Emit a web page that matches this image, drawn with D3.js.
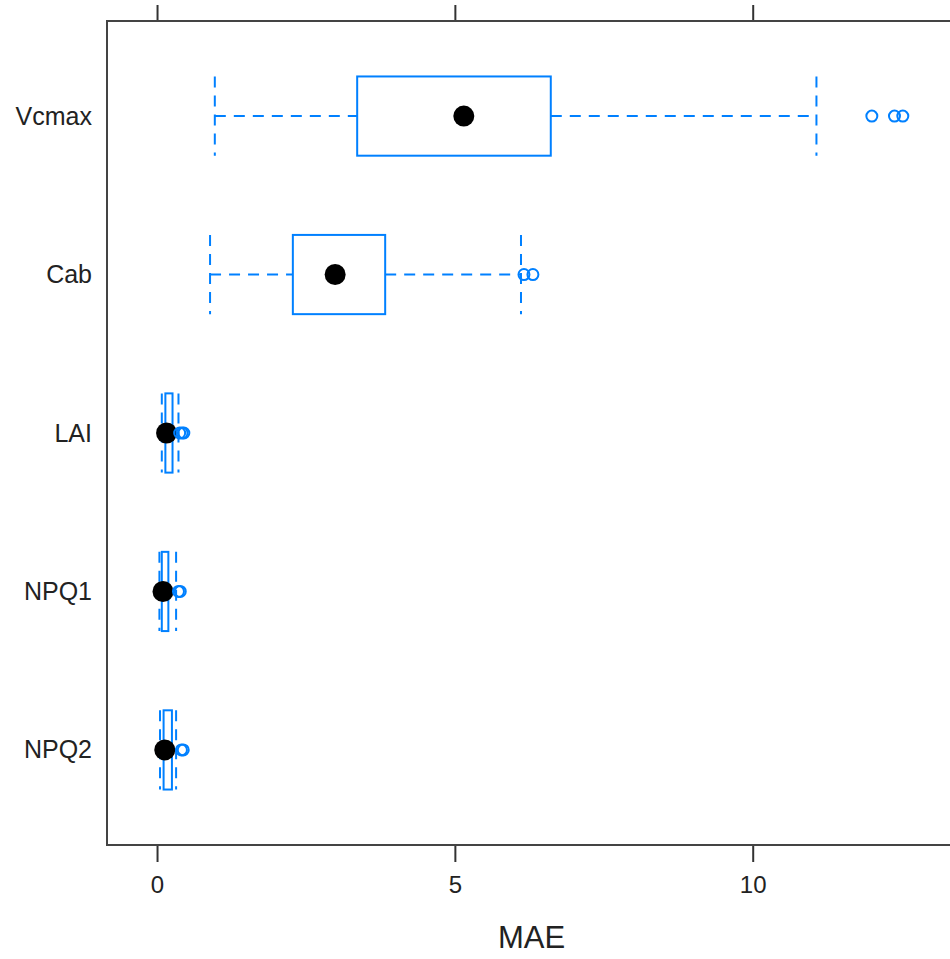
<!DOCTYPE html>
<html>
<head>
<meta charset="utf-8">
<script src="https://cdn.jsdelivr.net/npm/d3@7"></script>
<style>
  body { margin: 0; background: #fff; }
  text { font-family: "Liberation Sans", Arial, sans-serif; }
</style>
</head>
<body>
<div id="chart"></div>
<script>
// box summaries (MAE per parameter)
const categories = ['NPQ2', 'NPQ1', 'LAI', 'Cab', 'Vcmax'];
const whiskerLow = [0.05, 0.04, 0.08, 0.89, 0.97];
const q1 = [0.11, 0.08, 0.14, 2.28, 3.36];
const medians = [0.13, 0.10, 0.16, 2.99, 5.15];
const q3 = [0.25, 0.19, 0.26, 3.83, 6.61];
const whiskerHigh = [0.32, 0.32, 0.36, 6.11, 11.07];
const outliers = [
    [0.41, 0.44],
    [0.36, 0.39],
    [0.38, 0.42, 0.45],
    [6.16, 6.31],
    [12.0, 12.38, 12.52]
];
const xTicks = [0, 5, 10];

const width = 950, height = 959;
const padLeft = 107, padTop = 21, padBottom = 845, padRight = 960;
const blue = '#0080ff';

const svg = d3.select('#chart').append('svg')
    .attr('width', width)
    .attr('height', height);

const x = d3.scaleLinear().domain([-0.84, 13.48]).range([padLeft, padRight]);
const y = d3.scaleLinear().domain([0.4, 5.6]).range([padBottom, padTop]);
const half = y(0) - y(0.25);

const rows = categories.map((c, i) => ({
    name: c, pos: i + 1,
    lo: whiskerLow[i], q1: q1[i], med: medians[i], q3: q3[i], hi: whiskerHigh[i],
    out: outliers[i]
}));

// axes: ticks top and bottom, labels only at bottom
svg.append('g')
    .attr('transform', `translate(0,${padBottom})`)
    .call(d3.axisBottom(x).tickValues(xTicks).tickSize(17).tickPadding(14).tickFormat(d3.format('d')))
    .call(g => g.select('.domain').remove())
    .call(g => g.selectAll('line').attr('stroke', '#333').attr('stroke-width', 2))
    .call(g => g.selectAll('text').attr('font-size', 24).attr('fill', '#222')
        .style('font-family', '"Liberation Sans", Arial, sans-serif'));

svg.append('g')
    .attr('transform', `translate(0,${padTop})`)
    .call(d3.axisTop(x).tickValues(xTicks).tickSize(16).tickFormat(''))
    .call(g => g.select('.domain').remove())
    .call(g => g.selectAll('line').attr('stroke', '#333').attr('stroke-width', 2));

svg.append('g')
    .attr('transform', `translate(${padLeft},0)`)
    .call(d3.axisLeft(y).tickValues(rows.map(r => r.pos)).tickSize(0).tickPadding(15)
        .tickFormat((d, i) => rows[i].name))
    .call(g => g.select('.domain').remove())
    .call(g => g.selectAll('text').attr('font-size', 25).attr('fill', '#222')
        .style('font-family', '"Liberation Sans", Arial, sans-serif'));

// panel border
svg.append('rect')
    .attr('x', padLeft).attr('y', padTop)
    .attr('width', padRight - padLeft).attr('height', padBottom - padTop)
    .attr('fill', 'none').attr('stroke', '#444').attr('stroke-width', 2);

const box = svg.append('g').selectAll('g').data(rows).enter().append('g');

// dashed whiskers
box.append('line')
    .attr('x1', d => x(d.lo)).attr('x2', d => x(d.q1))
    .attr('y1', d => y(d.pos)).attr('y2', d => y(d.pos));
box.append('line')
    .attr('x1', d => x(d.q3)).attr('x2', d => x(d.hi))
    .attr('y1', d => y(d.pos)).attr('y2', d => y(d.pos));
// staples
box.append('line')
    .attr('x1', d => x(d.lo)).attr('x2', d => x(d.lo))
    .attr('y1', d => y(d.pos) - half).attr('y2', d => y(d.pos) + half);
box.append('line')
    .attr('x1', d => x(d.hi)).attr('x2', d => x(d.hi))
    .attr('y1', d => y(d.pos) - half).attr('y2', d => y(d.pos) + half);
box.selectAll('line')
    .attr('stroke', blue).attr('stroke-width', 2).attr('stroke-dasharray', '11,8');

box.append('rect')
    .attr('x', d => x(d.q1)).attr('y', d => y(d.pos) - half)
    .attr('width', d => x(d.q3) - x(d.q1)).attr('height', 2 * half)
    .attr('fill', 'none').attr('stroke', blue).attr('stroke-width', 2);

box.append('circle')
    .attr('cx', d => x(d.med)).attr('cy', d => y(d.pos))
    .attr('r', 10.5).attr('fill', '#000');

box.selectAll('circle.out')
    .data(d => d.out.map(v => ({ v, pos: d.pos })))
    .enter().append('circle')
    .attr('class', 'out')
    .attr('cx', d => x(d.v)).attr('cy', d => y(d.pos))
    .attr('r', 5.5).attr('fill', 'none').attr('stroke', blue).attr('stroke-width', 2);

svg.append('text')
    .attr('x', (padLeft + padRight) / 2 - 2).attr('y', 948)
    .attr('text-anchor', 'middle').attr('font-size', 31).attr('fill', '#222')
    .text('MAE');
</script>
</body>
</html>
